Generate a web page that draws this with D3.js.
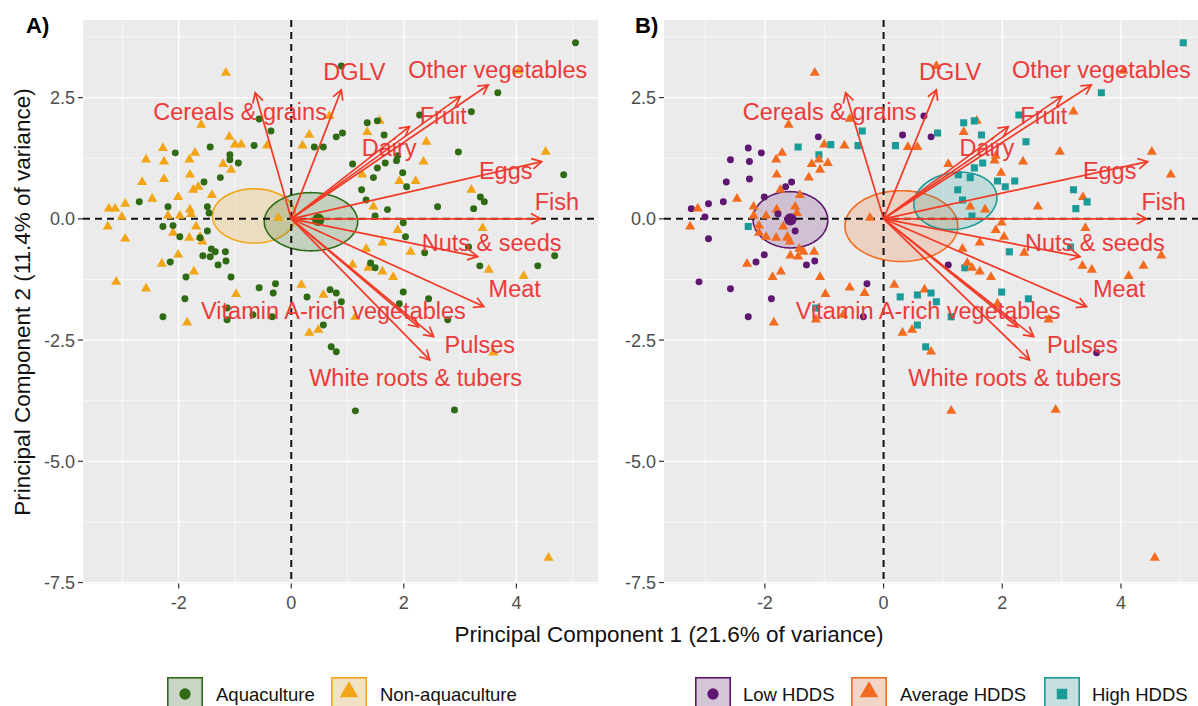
<!DOCTYPE html>
<html><head><meta charset="utf-8">
<script src="https://cdn.jsdelivr.net/npm/d3@7"></script>
<style>body{margin:0;background:#fff;} text{font-family:"Liberation Sans",Arial,Helvetica,sans-serif;}</style>
</head><body><svg id="c" width="1198" height="706"></svg>
<script>
// ---------- data ----------
const xTicks = [-2, 0, 2, 4];
const xMinor = [-3, -1, 1, 3, 5];
const yTicks = [2.5, 0, -2.5, -5, -7.5];
const yMinor = [3.75, 1.25, -1.25, -3.75, -6.25];
const xLabel = "Principal Component 1 (21.6% of variance)";
const yLabel = "Principal Component 2 (11.4% of variance)";

const loadingNames = ["Cereals & grains","DGLV","Other vegetables","Fruit","Dairy","Eggs","Fish","Nuts & seeds","Meat","Vitamin A-rich vegetables","Pulses","White roots & tubers"];
const loadingPC1 = [-0.64, 0.89, 3.50, 3.00, 2.10, 4.45, 4.43, 3.31, 3.42, 2.26, 2.53, 2.46];
const loadingPC2 = [2.60, 2.66, 2.76, 2.52, 1.90, 1.18, 0.00, -0.78, -1.81, -2.23, -2.43, -2.91];
const labelPC1 = [-0.91, 1.12, 3.67, 2.70, 1.74, 3.81, 4.72, 3.56, 3.97, 0.75, 3.35, 2.21];
const labelPC2 = [2.21, 3.03, 3.07, 2.14, 1.46, 0.99, 0.35, -0.49, -1.44, -1.90, -2.60, -3.28];

// [PC1, PC2, aquaculture group (A = aquaculture, N = non-aquaculture), HDDS (L = low, M = average, H = high)]
const households = [
[-1.16,3.01,'N','M'],[-1.60,1.94,'N','M'],[-1.10,1.69,'N','L'],[-1.00,1.53,'N','M'],[-0.89,1.53,'N','H'],
[-2.28,1.46,'N','L'],[-1.71,1.36,'N','M'],[-2.58,1.22,'N','L'],[-2.26,1.18,'N','L'],[-1.81,1.22,'N','M'],
[-1.21,1.13,'N','M'],[-1.07,1.01,'N','M'],[-2.65,0.76,'N','L'],[-2.26,0.82,'N','L'],[-1.80,0.91,'N','M'],
[-1.74,0.60,'N','M'],[-1.65,0.66,'N','L'],[-1.41,0.49,'N','M'],[-2.47,0.41,'N','M'],[-2.01,0.45,'N','L'],
[-2.95,0.31,'N','L'],[-3.24,0.21,'N','L'],[-3.13,0.21,'N','M'],[-1.80,0.19,'N','M'],[-1.78,0.10,'N','L'],
[-2.19,0.06,'N','M'],[-1.98,0.06,'N','M'],[-3.01,0.04,'N','L'],[-3.26,-0.16,'N','M'],[-1.69,-0.16,'N','M'],
[-2.10,-0.29,'N','M'],[-1.62,-0.37,'N','M'],[-1.58,-0.47,'N','M'],[-1.81,-0.39,'N','M'],[-2.95,-0.41,'N','L'],
[-2.01,-0.74,'N','L'],[-2.30,-0.93,'N','M'],[-1.73,-1.09,'N','M'],[-3.11,-1.30,'N','L'],[-2.58,-1.44,'N','L'],
[-0.98,-1.55,'N','M'],[-1.85,-2.14,'N','M'],[0.18,-1.36,'N','M'],[-0.43,1.51,'N','H'],[0.68,2.12,'N','L'],
[0.32,1.73,'N','L'],[0.20,1.51,'N','H'],[1.57,2.02,'N','M'],[1.35,1.79,'N','M'],[2.40,1.59,'N','H'],
[2.35,1.18,'N','M'],[4.52,1.38,'N','M'],[1.92,0.78,'N','H'],[2.21,0.78,'N','H'],[1.26,0.91,'N','H'],
[3.20,0.60,'N','H'],[1.46,0.25,'N','M'],[3.40,-0.19,'N','M'],[1.89,-0.23,'N','M'],[2.12,-0.68,'N','H'],
[3.51,-1.05,'N','M'],[4.13,-1.18,'N','M'],[1.62,-0.49,'N','M'],[1.33,-0.62,'N','M'],[1.62,-1.09,'N','M'],
[1.81,-1.20,'N','M'],[1.09,-0.95,'N','L'],[1.37,-1.01,'N','H'],[0.57,-1.57,'N','H'],[1.14,-2.02,'N','H'],
[0.32,-2.35,'N','M'],[0.48,-2.29,'N','M'],[3.59,-2.76,'N','L'],[4.57,-6.99,'N','M'],[4.04,3.05,'N','M'],
[-0.23,0.02,'N','M'],
[-0.57,2.06,'A','M'],[-0.36,1.81,'A','H'],[-1.44,1.48,'A','H'],[-0.66,1.51,'A','M'],[-2.06,1.36,'A','L'],
[-1.09,1.32,'A','H'],[-1.09,1.22,'A','M'],[-0.94,1.15,'A','M'],[-1.26,0.85,'A','M'],[-1.55,0.76,'A','L'],
[-2.70,0.35,'A','L'],[-2.19,0.25,'A','M'],[-1.49,0.25,'A','M'],[-1.46,0.12,'A','M'],[-2.28,-0.16,'A','H'],
[-2.10,-0.14,'A','M'],[-1.98,-0.37,'A','M'],[-1.49,-0.25,'A','L'],[-1.62,-0.39,'A','M'],[-1.42,-0.62,'A','M'],
[-1.35,-0.68,'A','M'],[-1.57,-0.76,'A','M'],[-1.44,-0.78,'A','M'],[-1.17,-0.68,'A','M'],[-1.16,-0.87,'A','L'],
[-1.30,-0.95,'A','L'],[-2.15,-0.89,'A','L'],[-1.07,-1.20,'A','M'],[-1.87,-1.20,'A','M'],[-0.28,-1.34,'A','L'],
[-0.32,-1.53,'A','M'],[-0.57,-1.42,'A','M'],[-1.89,-1.65,'A','L'],[-2.28,-2.02,'A','L'],[-1.14,-1.84,'A','H'],
[-1.14,-2.08,'A','M'],[-0.68,-1.98,'A','M'],[-0.34,-2.02,'A','L'],[0.28,-1.61,'A','H'],[0.57,-2.19,'A','H'],
[0.71,-2.64,'A','H'],[0.80,-2.74,'A','M'],[1.14,-3.96,'A','M'],[2.90,-3.94,'A','M'],[1.41,-0.91,'A','M'],
[1.49,-1.01,'A','M'],[0.69,-1.46,'A','M'],[0.80,-1.53,'A','H'],[0.89,-1.71,'A','H'],[2.60,0.25,'A','M'],
[3.24,0.21,'A','H'],[1.71,0.19,'A','M'],[1.49,0.06,'A','H'],[1.99,-0.08,'A','M'],[2.03,-0.37,'A','M'],
[2.37,-0.70,'A','M'],[3.15,-0.58,'A','H'],[3.35,-0.97,'A','M'],[4.38,-0.97,'A','M'],[4.68,-0.76,'A','M'],
[1.99,-1.51,'A','H'],[2.44,-1.65,'A','H'],[1.92,-1.75,'A','M'],[2.78,-2.08,'A','M'],[5.05,3.63,'A','H'],
[0.89,3.15,'A','M'],[3.67,2.60,'A','H'],[2.28,2.14,'A','H'],[3.20,2.21,'A','M'],[1.35,1.98,'A','H'],
[1.53,2.02,'A','H'],[0.80,1.69,'A','L'],[0.91,1.77,'A','H'],[0.41,1.48,'A','M'],[0.57,1.48,'A','M'],
[1.65,1.73,'A','H'],[2.97,1.38,'A','M'],[1.89,1.30,'A','M'],[1.87,1.20,'A','M'],[4.84,0.91,'A','M'],
[1.67,1.15,'A','H'],[1.53,1.05,'A','H'],[1.09,1.13,'A','M'],[1.98,0.95,'A','M'],[1.46,0.85,'A','H'],
[2.05,0.66,'A','H'],[1.25,0.60,'A','H'],[3.36,0.45,'A','M'],[3.43,0.35,'A','H'],[1.33,0.39,'A','H']
];

// groups
const aquaKeys = ['A','N'];
const aquaNames = ['Aquaculture','Non-aquaculture'];
const hddsKeys = ['L','M','H'];
const hddsNames = ['Low HDDS','Average HDDS','High HDDS'];

// ellipses [group, centre PC1, centre PC2, semi-axis PC1, semi-axis PC2, rotation]
const ellipsesA = [['N',-0.66,0.06,0.74,0.56,0],['A',0.35,-0.06,0.83,0.60,0]];
const ellipsesB = [['L',-1.57,-0.02,0.63,0.58,-0.1],['M',0.30,-0.15,0.95,0.73,0],['H',1.21,0.37,0.71,0.58,0.3]];
// group means shown as larger symbols
const meansA = [['A',0.48,-0.02]];
const meansB = [['L',-1.57,-0.01]];

// ---------- style ----------
const colorAqua = {A:'#2f6a14', N:'#f2a516'};
const colorHdds = {L:'#5e1670', M:'#f26b1f', H:'#1b9b98'};
const shapeAqua = {A:d3.symbolCircle, N:d3.symbolTriangle};
const shapeHdds = {L:d3.symbolCircle, M:d3.symbolTriangle, H:d3.symbolSquare};
const arrowColor = '#f23a26';
const labelColor = '#ec3a3a';

const svg = d3.select('#c');
const xDomain = [-3.70, 5.45], yDomain = [-7.52, 4.10];
const plotTop = 20, plotBottom = 583.5;
const fmtTick = t => (Number.isInteger(t) && Math.abs(t) % 1 === 0 && !String(t).includes('.') ? t.toFixed(1) : t.toFixed(1));

function ellipsePath(e, x, y){
  const [, cx, cy, rx, ry, ang] = e;
  const c = Math.cos(ang), s = Math.sin(ang);
  const pts = d3.range(0, 361, 3).map(t => {
    const a = t*Math.PI/180, ex = rx*Math.cos(a), ey = ry*Math.sin(a);
    return [x(cx + ex*c - ey*s), y(cy + ex*s + ey*c)];
  });
  return d3.line()(pts) + 'Z';
}
function symSize(sh, big){
  if (sh === d3.symbolCircle) return big ? 100 : 38;
  if (sh === d3.symbolTriangle) return big ? 150 : 44;
  return big ? 110 : 50;
}

function drawPanel(id, left, right, groupIdx, colors, shapes, ellipses, means, tag, tagX){
  const x = d3.scaleLinear().domain(xDomain).range([left, right]);
  const y = d3.scaleLinear().domain(yDomain).range([plotBottom, plotTop]);
  const g = svg.append('g');
  g.append('clipPath').attr('id','clip'+id).append('rect')
    .attr('x',left).attr('y',plotTop).attr('width',right-left).attr('height',plotBottom-plotTop);
  g.append('rect').attr('x',left).attr('y',plotTop).attr('width',right-left).attr('height',plotBottom-plotTop).attr('fill','#ebebeb');
  const pg = g.append('g').attr('clip-path','url(#clip'+id+')');
  // grid
  pg.selectAll('.vx').data(xMinor).join('line').attr('x1',x).attr('x2',x).attr('y1',plotTop).attr('y2',plotBottom).attr('stroke','#fff').attr('stroke-width',0.6);
  pg.selectAll('.hy').data(yMinor).join('line').attr('y1',y).attr('y2',y).attr('x1',left).attr('x2',right).attr('stroke','#fff').attr('stroke-width',0.6);
  pg.selectAll('.vX').data(xTicks).join('line').attr('x1',x).attr('x2',x).attr('y1',plotTop).attr('y2',plotBottom).attr('stroke','#fff').attr('stroke-width',1.3);
  pg.selectAll('.hY').data(yTicks).join('line').attr('y1',y).attr('y2',y).attr('x1',left).attr('x2',right).attr('stroke','#fff').attr('stroke-width',1.3);
  // ellipses
  pg.selectAll('path.ell').data(ellipses).join('path').attr('class','ell')
    .attr('d', e => ellipsePath(e, x, y))
    .attr('fill', e => colors[e[0]]).attr('fill-opacity',0.2)
    .attr('stroke', e => colors[e[0]]).attr('stroke-width',1.6);
  // dashed zero lines
  pg.append('line').attr('x1',x(0)).attr('x2',x(0)).attr('y1',plotTop).attr('y2',plotBottom)
    .attr('stroke','#111').attr('stroke-width',2).attr('stroke-dasharray','7,5');
  pg.append('line').attr('x1',left).attr('x2',right).attr('y1',y(0)).attr('y2',y(0))
    .attr('stroke','#111').attr('stroke-width',2).attr('stroke-dasharray','7,5');
  // points
  pg.selectAll('path.pt').data(households).join('path').attr('class','pt')
    .attr('transform', d => `translate(${x(d[0])},${y(d[1])})`)
    .attr('d', d => { const sh = shapes[d[groupIdx]]; return d3.symbol().type(sh).size(symSize(sh,false))(); })
    .attr('fill', d => colors[d[groupIdx]]);
  pg.selectAll('path.mn').data(means).join('path').attr('class','mn')
    .attr('transform', d => `translate(${x(d[1])},${y(d[2])})`)
    .attr('d', d => d3.symbol().type(shapes[d[0]]).size(120)())
    .attr('fill', d => colors[d[0]]);
  // arrows
  const ox = x(0), oy = y(0);
  loadingNames.forEach((n, i) => {
    const tx = x(loadingPC1[i]), ty = y(loadingPC2[i]);
    const th = Math.atan2(ty-oy, tx-ox), L = 11, h = 0.5;
    const p1 = [tx - L*Math.cos(th-h), ty - L*Math.sin(th-h)];
    const p2 = [tx - L*Math.cos(th+h), ty - L*Math.sin(th+h)];
    pg.append('line').attr('x1',ox).attr('y1',oy).attr('x2',tx).attr('y2',ty).attr('stroke',arrowColor).attr('stroke-width',1.7);
    pg.append('path').attr('d', d3.line()([p1,[tx,ty],p2])).attr('fill','none').attr('stroke',arrowColor).attr('stroke-width',1.7);
  });
  loadingNames.forEach((n, i) => {
    g.append('text').attr('x', x(labelPC1[i])).attr('y', y(labelPC2[i])).attr('dy','0.36em')
      .attr('text-anchor','middle').attr('font-size',23.5).attr('fill',labelColor).text(n);
  });
  // axes ticks
  xTicks.forEach(t => {
    g.append('line').attr('x1',x(t)).attr('x2',x(t)).attr('y1',plotBottom).attr('y2',plotBottom+5).attr('stroke','#333').attr('stroke-width',1.2);
    g.append('text').attr('x',x(t)).attr('y',plotBottom+25).attr('text-anchor','middle').attr('font-size',18).attr('fill','#4d4d4d').text(String(t));
  });
  yTicks.forEach(t => {
    g.append('line').attr('x1',left-5).attr('x2',left).attr('y1',y(t)).attr('y2',y(t)).attr('stroke','#333').attr('stroke-width',1.2);
    g.append('text').attr('x',left-8).attr('y',y(t)).attr('dy','0.36em').attr('text-anchor','end').attr('font-size',18).attr('fill','#4d4d4d').text(t.toFixed(1));
  });
  svg.append('text').attr('x',tagX).attr('y',33).attr('font-size',22).attr('font-weight','bold').attr('fill','#000').text(tag);
  return {x, y};
}

drawPanel('A', 83, 598, 2, colorAqua, shapeAqua, ellipsesA, meansA, 'A)', 26);
drawPanel('B', 664, 1207, 3, colorHdds, shapeHdds, ellipsesB, meansB, 'B)', 635);

// axis titles
svg.append('text').attr('x',669).attr('y',642).attr('text-anchor','middle').attr('font-size',22.5).attr('fill','#111').text(xLabel);
svg.append('text').attr('transform','translate(30,302) rotate(-90)').attr('text-anchor','middle').attr('font-size',22.5).attr('fill','#111').text(yLabel);

// legends
function legend(keys, names, colors, shapes, keyX, textX){
  keys.forEach((k, i) => {
    const kx = keyX[i];
    svg.append('rect').attr('x',kx).attr('y',677).attr('width',36).attr('height',34).attr('fill','#f2f2f2');
    svg.append('rect').attr('x',kx+0.8).attr('y',677.8).attr('width',34.4).attr('height',34).attr('fill',colors[k]).attr('fill-opacity',0.2).attr('stroke',colors[k]).attr('stroke-width',1.6);
    const sh = shapes[k];
    svg.append('path').attr('transform',`translate(${kx+18},${sh===d3.symbolTriangle?692:694})`)
      .attr('d', d3.symbol().type(sh).size(symSize(sh,true))()).attr('fill',colors[k]);
    svg.append('text').attr('x',textX[i]).attr('y',701).attr('font-size',18.5).attr('fill','#111').text(names[i]);
  });
}
legend(aquaKeys, aquaNames, colorAqua, shapeAqua, [167,331], [216,380]);
legend(hddsKeys, hddsNames, colorHdds, shapeHdds, [695,851,1044], [743,900,1092]);
</script></body></html>
